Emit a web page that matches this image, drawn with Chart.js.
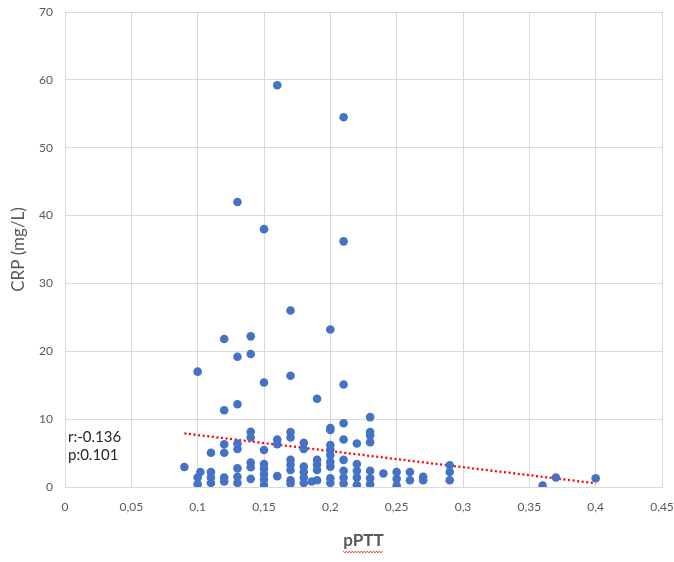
<!DOCTYPE html>
<html>
<head>
<meta charset="utf-8">
<script src="https://cdn.jsdelivr.net/npm/chart.js@4"></script>
<style>
  html, body { margin: 0; padding: 0; background: #fff; }
  #wrap { width: 674px; height: 562px; }
</style>
</head>
<body>
<div id="wrap"><canvas id="scatterChart"></canvas></div>
<script>
    // pPTT (x) and CRP (y)
    const pptt = [
      0.09,
      0.1, 0.1, 0.1, 0.102,
      0.11, 0.11, 0.11, 0.11,
      0.12, 0.12, 0.12, 0.12, 0.12, 0.12,
      0.13, 0.13, 0.13, 0.13, 0.13, 0.13, 0.13, 0.13,
      0.14, 0.14, 0.14, 0.14, 0.14, 0.14, 0.14,
      0.15, 0.15, 0.15, 0.15, 0.15, 0.15, 0.15, 0.15,
      0.16, 0.16, 0.16, 0.16,
      0.17, 0.17, 0.17, 0.17, 0.17, 0.17, 0.17, 0.17, 0.17,
      0.18, 0.18, 0.18, 0.18, 0.18, 0.18, 0.186,
      0.19, 0.19, 0.19, 0.19, 0.19,
      0.2, 0.2, 0.2, 0.2, 0.2, 0.2, 0.2, 0.2, 0.2, 0.2,
      0.21, 0.21, 0.21, 0.21, 0.21, 0.21, 0.21, 0.21, 0.21,
      0.22, 0.22, 0.22, 0.22, 0.22,
      0.23, 0.23, 0.23, 0.23, 0.23, 0.23, 0.23,
      0.24,
      0.25, 0.25, 0.25,
      0.26, 0.26,
      0.27, 0.27,
      0.29, 0.29, 0.29,
      0.36, 0.37, 0.4
    ];
    const crp = [
      2.95,
      17.0, 1.4, 0.4, 2.2,
      5.05, 2.2, 1.4, 0.6,
      21.8, 11.3, 6.3, 5.05, 1.4, 0.8,
      42.0, 19.2, 12.2, 6.4, 5.6, 2.75, 1.5, 0.6,
      22.2, 19.6, 8.15, 7.3, 3.6, 2.9, 1.2,
      38.0, 15.4, 5.45, 3.4, 2.7, 1.9, 1.1, 0.3,
      59.2, 7.0, 6.3, 1.6,
      26.0, 16.4, 8.1, 7.3, 4.0, 3.3, 2.5, 1.0, 0.5,
      6.5, 5.6, 3.0, 2.2, 1.4, 0.6, 0.8,
      13.0, 4.0, 3.3, 2.5, 1.0,
      23.2, 8.7, 8.4, 6.2, 5.5, 4.7, 3.7, 3.0, 1.3, 0.6,
      54.5, 36.2, 15.1, 9.4, 7.0, 4.0, 2.4, 1.4, 0.5,
      6.4, 3.4, 2.4, 1.4, 0.3,
      10.3, 8.1, 7.6, 6.6, 2.4, 1.3, 0.4,
      2.0,
      2.2, 1.2, 0.2,
      2.2, 1.0,
      1.5, 1.0,
      3.2, 2.2, 1.0,
      0.2, 1.4, 1.3
    ];

    // Linear trend line ends
    const trendX = [0.09, 0.4];
    const trendY = [7.9, 0.55];

    const statLines = ['r:-0.136', 'p:0.101'];
    const statValues = [7.4, 4.7]; // y positions of the two text lines, in CRP units

    const gridColor = '#d9d9d9';
    const textColor = '#595959';
    const fontFamily = 'Lato, "Open Sans", sans-serif';

    // Text box with r and p
    const statsText = {
      id: 'statsText',
      afterDatasetsDraw(chart) {
        const { ctx, chartArea, scales } = chart;
        ctx.save();
        ctx.fillStyle = '#262626';
        ctx.font = '15px ' + fontFamily;
        ctx.textBaseline = 'middle';
        statLines.forEach((t, i) => {
          ctx.fillText(t, chartArea.left + 3, scales.y.getPixelForValue(statValues[i]));
        });
        ctx.restore();
      }
    };

    // Spell-check squiggle under the x title
    const squiggle = {
      id: 'squiggle',
      afterDraw(chart) {
        const { ctx, scales } = chart;
        const x = scales.x;
        ctx.save();
        ctx.font = 'bold 17px ' + fontFamily;
        const w = ctx.measureText('pPTT').width;
        const cx = (x.left + x.right) / 2;
        const y0 = x.bottom - 10;
        ctx.strokeStyle = '#e02020';
        ctx.lineWidth = 1;
        ctx.beginPath();
        let up = true;
        for (let px = cx - w / 2; px <= cx + w / 2; px += 1.5) {
          const py = y0 + (up ? -0.8 : 0.8);
          if (px === cx - w / 2) ctx.moveTo(px, py); else ctx.lineTo(px, py);
          up = !up;
        }
        ctx.stroke();
        ctx.restore();
      }
    };

    const fmt = v => String(Math.round(v * 100) / 100).replace('.', ',');

    new Chart(document.getElementById('scatterChart').getContext('2d'), {
      type: 'scatter',
      data: {
        datasets: [{
          label: 'CRP',
          data: pptt.map((x, i) => ({ x: x, y: crp[i] })),
          backgroundColor: '#4472C4',
          borderColor: '#4472C4',
          borderWidth: 0,
          pointRadius: 4.3,
          pointHoverRadius: 4.3
        }, {
          type: 'line',
          label: 'Trend',
          data: trendX.map((x, i) => ({ x: x, y: trendY[i] })),
          borderColor: '#ff0000',
          borderWidth: 2.3,
          borderDash: [2, 2.6],
          pointRadius: 0,
          fill: false,
          tension: 0
        }]
      },
      options: {
        responsive: true,
        maintainAspectRatio: false,
        animation: false,
        layout: { padding: { left: 0, right: 12, top: 12, bottom: 0 } },
        plugins: {
          legend: { display: false },
          tooltip: { enabled: false }
        },
        scales: {
          x: {
            type: 'linear',
            min: 0,
            max: 0.45,
            afterFit: s => { s.height = 75; s.paddingLeft = 0; s.paddingRight = 0; },
            grid: { color: gridColor, drawTicks: false },
            border: { color: gridColor },
            ticks: {
              stepSize: 0.05,
              padding: 13,
              color: textColor,
              font: { family: fontFamily, size: 12 },
              callback: v => fmt(v)
            },
            title: {
              display: true,
              text: 'pPTT',
              color: textColor,
              font: { family: fontFamily, size: 17, weight: 'bold' },
              padding: { top: 0, bottom: 11 }
            }
          },
          y: {
            min: 0,
            max: 70,
            afterFit: s => { s.width = 65; s.paddingTop = 0; s.paddingBottom = 0; },
            grid: { color: gridColor, drawTicks: false },
            border: { color: gridColor },
            ticks: {
              stepSize: 10,
              padding: 12,
              color: textColor,
              font: { family: fontFamily, size: 12 }
            },
            title: {
              display: true,
              text: 'CRP (mg/L)',
              color: textColor,
              font: { family: fontFamily, size: 17 },
              padding: { top: 8, bottom: 0 }
            }
          }
        }
      },
      plugins: [statsText, squiggle]
    });
</script>
</body>
</html>
